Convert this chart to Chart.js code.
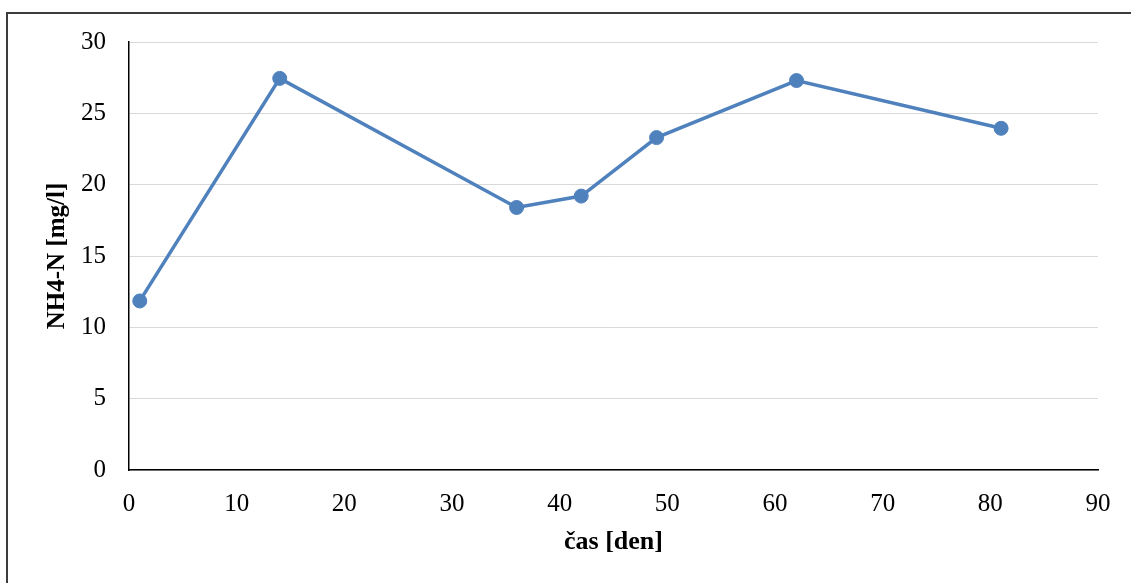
<!DOCTYPE html>
<html>
<head>
<meta charset="utf-8">
<script src="https://cdn.jsdelivr.net/npm/chart.js@4/dist/chart.umd.min.js"></script>
<style>
  html, body { margin: 0; padding: 0; background: #fff; }
  #wrap { position: relative; width: 1131px; height: 583px; overflow: hidden; }
  #frame { position: absolute; left: 6px; top: 12px; right: -10px; bottom: -10px;
           border-top: 2px solid #3c3c3c; border-left: 2px solid #3c3c3c; }
  canvas { position: absolute; left: 0; top: 0; }
</style>
</head>
<body>
<div id="wrap">
  <div id="frame"></div>
  <canvas id="chart" width="1131" height="583"></canvas>
</div>
<script>
// sampling days and measured NH4-N values
var days = [1, 14, 36, 42, 49, 62, 81];
var nh4 = [11.85, 27.45, 18.4, 19.2, 23.3, 27.3, 23.95];

var xTitle = 'čas [den]';
var yTitle = 'NH4-N [mg/l]';

var lineColor = '#4f81bd';
var fontFamily = '"Liberation Serif", "Times New Roman", serif';

var points = days.map(function(d, i) { return { x: d, y: nh4[i] }; });

var chart = new Chart(document.getElementById('chart'), {
  type: 'line',
  data: {
    datasets: [{
      data: points,
      borderColor: lineColor,
      backgroundColor: lineColor,
      borderWidth: 3.5,
      pointRadius: 7,
      pointBorderWidth: 1,
      pointBackgroundColor: lineColor,
      pointBorderColor: lineColor,
      tension: 0,
      fill: false
    }]
  },
  options: {
    responsive: false,
    animation: false,
    layout: { padding: { left: 0, right: 33, top: 42, bottom: 0 } },
    plugins: {
      legend: { display: false },
      tooltip: { enabled: false }
    },
    scales: {
      x: {
        type: 'linear',
        min: 0,
        max: 90,
        ticks: {
          stepSize: 10,
          color: '#000',
          padding: 19,
          maxRotation: 0,
          font: { family: fontFamily, size: 25 }
        },
        grid: { display: false, drawTicks: false },
        border: { color: '#000', width: 1.5 },
        title: {
          display: true,
          text: xTitle,
          color: '#000',
          padding: { top: 0, bottom: 25 },
          font: { family: fontFamily, size: 26, weight: 'bold' }
        },
        afterFit: function(scale) { scale.height = 113; }
      },
      y: {
        min: 0,
        max: 30,
        ticks: {
          stepSize: 5,
          color: '#000',
          padding: 23,
          font: { family: fontFamily, size: 25 }
        },
        grid: { color: '#d9d9d9', lineWidth: 1, drawTicks: false },
        border: { color: '#000', width: 1.5 },
        title: {
          display: true,
          text: yTitle,
          color: '#000',
          padding: { top: 43, bottom: 0 },
          font: { family: fontFamily, size: 25, weight: 'bold' }
        },
        afterFit: function(scale) { scale.width = 129; }
      }
    }
  }
});
</script>
</body>
</html>
